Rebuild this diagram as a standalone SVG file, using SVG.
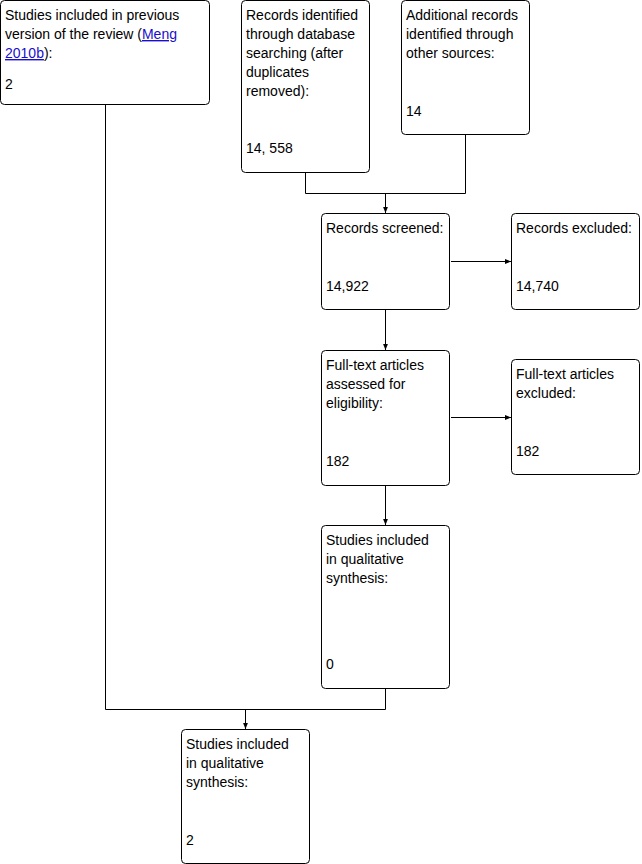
<svg xmlns="http://www.w3.org/2000/svg" width="642" height="864" viewBox="0 0 642 864">
<style>
.box{fill:#fff;stroke:#000;stroke-width:1}
text{font-family:"Liberation Sans",Arial,sans-serif;font-size:14px;fill:#000}
.link{fill:#1a0dcc;text-decoration:underline}
.con{fill:none;stroke:#000;stroke-width:1}
</style>
<defs>
<marker id="ah" viewBox="0 0 10 10" refX="10" refY="5" markerWidth="7" markerHeight="6" markerUnits="userSpaceOnUse" orient="auto">
<path d="M0,1 L10,5 L0,9 z" fill="#000"/>
</marker>
</defs>
<rect width="642" height="864" fill="#fff"/>
<g id="connectors">
<path class="con" d="M105.5,104.5 V709.5 H385.5 V688.5"/>
<path class="con" d="M245.5,709.5 V729" marker-end="url(#ah)"/>
<path class="con" d="M305.5,172.5 V193.5 H465.5 V134.5"/>
<path class="con" d="M385.5,193.5 V213" marker-end="url(#ah)"/>
<path class="con" d="M451,261.5 H511" marker-end="url(#ah)"/>
<path class="con" d="M385.5,309.5 V350" marker-end="url(#ah)"/>
<path class="con" d="M451,417.5 H511" marker-end="url(#ah)"/>
<path class="con" d="M385.5,485.5 V525" marker-end="url(#ah)"/>
</g>
<g id="prev">
<rect class="box" x="0.5" y="0.5" width="209" height="104" rx="4"/>
<text x="5" y="20">Studies included in previous</text>
<text x="5" y="39">version of the review (<tspan class="link">Meng</tspan></text>
<text x="5" y="58"><tspan class="link">2010b</tspan>):</text>
<text x="5" y="89">2</text>
</g>
<g id="db">
<rect class="box" x="241.5" y="0.5" width="128" height="172" rx="4"/>
<text x="246" y="20">Records identified</text>
<text x="246" y="39">through database</text>
<text x="246" y="58">searching (after</text>
<text x="246" y="77">duplicates</text>
<text x="246" y="96">removed):</text>
<text x="246" y="153">14, 558</text>
</g>
<g id="other">
<rect class="box" x="401.5" y="0.5" width="128" height="134" rx="4"/>
<text x="406" y="20">Additional records</text>
<text x="406" y="39">identified through</text>
<text x="406" y="58">other sources:</text>
<text x="406" y="116">14</text>
</g>
<g id="screened">
<rect class="box" x="321.5" y="213.5" width="128" height="96" rx="4"/>
<text x="326" y="233">Records screened:</text>
<text x="326" y="291">14,922</text>
</g>
<g id="excluded">
<rect class="box" x="511.5" y="213.5" width="128" height="96" rx="4"/>
<text x="516" y="233">Records excluded:</text>
<text x="516" y="291">14,740</text>
</g>
<g id="fulltext">
<rect class="box" x="321.5" y="350.5" width="128" height="135" rx="4"/>
<text x="326" y="370">Full-text articles</text>
<text x="326" y="389">assessed for</text>
<text x="326" y="408">eligibility:</text>
<text x="326" y="466">182</text>
</g>
<g id="ftexcluded">
<rect class="box" x="511.5" y="359.5" width="128" height="115" rx="4"/>
<text x="516" y="379">Full-text articles</text>
<text x="516" y="398">excluded:</text>
<text x="516" y="456">182</text>
</g>
<g id="qual1">
<rect class="box" x="321.5" y="525.5" width="128" height="163" rx="4"/>
<text x="326" y="545">Studies included</text>
<text x="326" y="564">in qualitative</text>
<text x="326" y="583">synthesis:</text>
<text x="326" y="669">0</text>
</g>
<g id="qual2">
<rect class="box" x="181.5" y="729.5" width="128" height="134" rx="4"/>
<text x="186" y="749">Studies included</text>
<text x="186" y="768">in qualitative</text>
<text x="186" y="787">synthesis:</text>
<text x="186" y="845">2</text>
</g>
</svg>
